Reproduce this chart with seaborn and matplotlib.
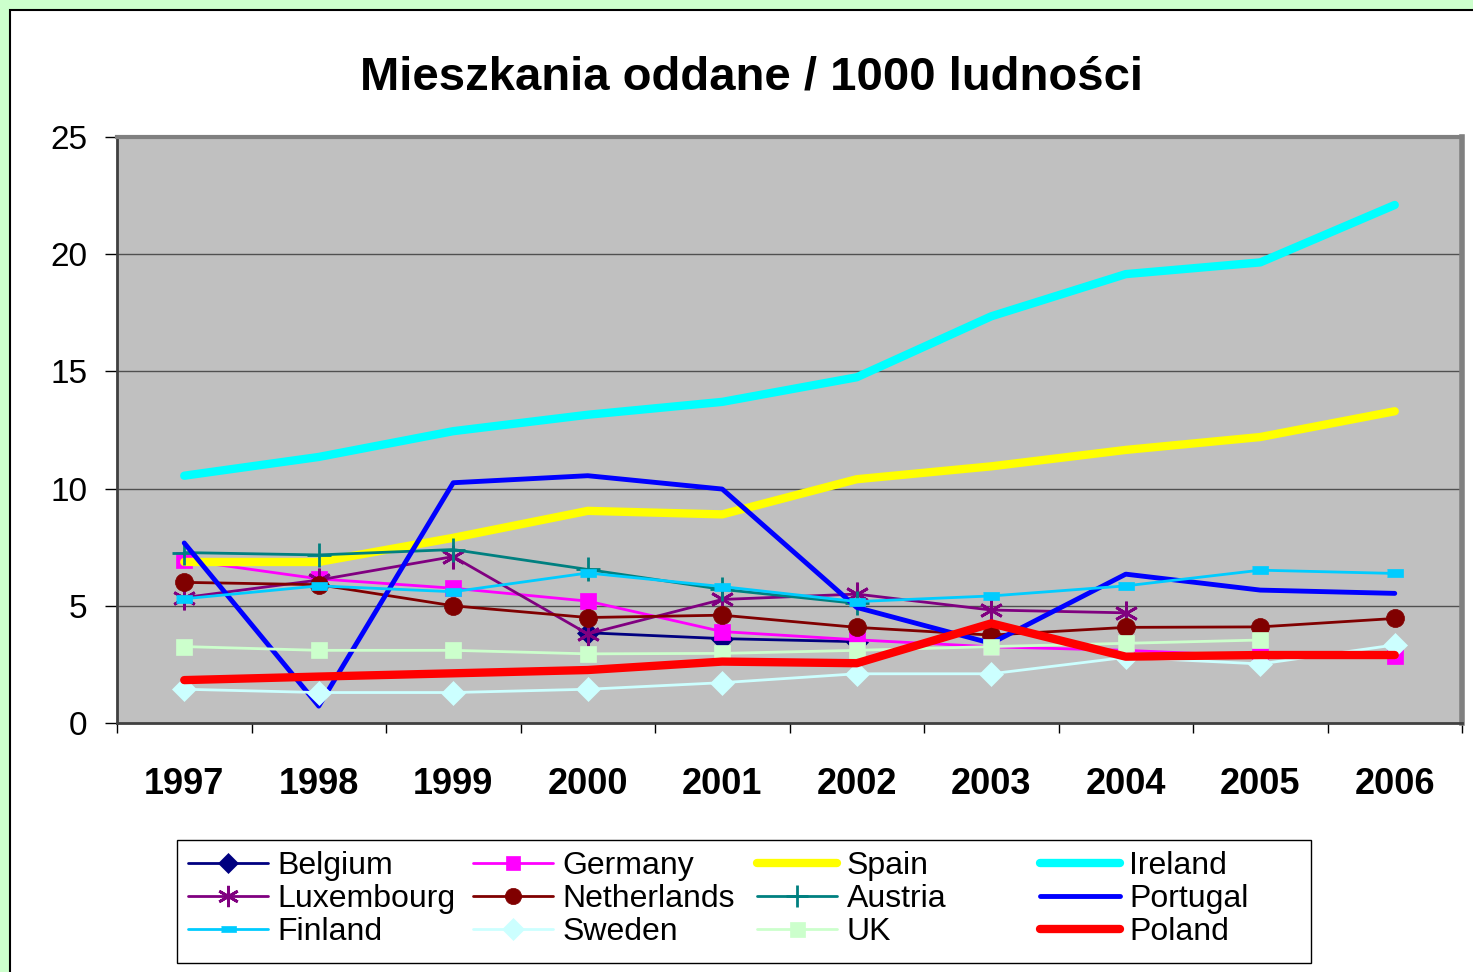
import numpy as np
import pandas as pd
import matplotlib
matplotlib.use('Agg')
import matplotlib.pyplot as plt
import matplotlib.patches as patches
from matplotlib.lines import Line2D
import seaborn as sns

# ---------- data ----------
years = ['1997', '1998', '1999', '2000', '2001', '2002', '2003', '2004', '2005', '2006']

belgium = [np.nan, np.nan, np.nan, 3.85, 3.6, 3.47, np.nan, np.nan, np.nan, np.nan]
germany = [6.95, 6.15, 5.75, 5.2, 3.9, 3.55, 3.25, 3.1, 2.85, 2.85]
spain = [6.87, 6.87, 7.9, 9.05, 8.9, 10.4, 10.95, 11.65, 12.2, 13.3]
ireland = [10.55, 11.35, 12.45, 13.15, 13.7, 14.75, 17.35, 19.15, 19.65, 22.1]
luxembourg = [5.35, 6.1, 7.1, 3.8, 5.27, 5.5, 4.82, 4.7, np.nan, np.nan]
netherlands = [6.0, 5.9, 5.0, 4.5, 4.6, 4.08, 3.75, 4.08, 4.1, 4.46]
austria = [7.27, 7.17, 7.4, 6.55, 5.7, 5.1, np.nan, np.nan, np.nan, np.nan]
portugal = [7.68, 0.72, 10.25, 10.55, 9.98, 4.93, 3.4, 6.35, 5.67, 5.53]
finland = [5.3, 5.85, 5.6, 6.4, 5.82, 5.18, 5.42, 5.85, 6.52, 6.38]
sweden = [1.44, 1.3, 1.3, 1.44, 1.72, 2.1, 2.1, 2.8, 2.52, 3.33]
uk = [3.26, 3.1, 3.1, 2.95, 2.97, 3.1, 3.26, 3.4, 3.54, np.nan]
poland = [1.83, 1.98, 2.12, 2.26, 2.62, 2.55, 4.25, 2.83, 2.9, 2.9]

# name, values, colour, line width, marker, marker size
series = [
    ('Belgium', belgium, '#000080', 2, 'D', 11),
    ('Germany', germany, '#FF00FF', 2, 's', 11),
    ('Spain', spain, '#FFFF00', 6, None, 0),
    ('Ireland', ireland, '#00FFFF', 6, None, 0),
    ('Luxembourg', luxembourg, '#800080', 2, (6, 2, 0), 17),
    ('Netherlands', netherlands, '#800000', 2, 'o', 13),
    ('Austria', austria, '#008080', 2, '+', 17),
    ('Portugal', portugal, '#0000FF', 3.5, None, 0),
    ('Finland', finland, '#00CCFF', 2, [(-1, -0.45), (1, -0.45), (1, 0.45), (-1, 0.45)], 12),
    ('Sweden', sweden, '#CCFFFF', 2, 'D', 12),
    ('UK', uk, '#CCFFCC', 2, 's', 12),
    ('Poland', poland, '#FF0000', 6, None, 0),
]

sns.set_style('white')
plt.rcParams['font.family'] = ['Liberation Sans', 'DejaVu Sans']
plt.rcParams['text.color'] = 'black'
plt.rcParams['xtick.color'] = 'black'
plt.rcParams['ytick.color'] = 'black'

W, H = 1473, 972
fig = plt.figure(figsize=(W / 100, H / 100), dpi=100, facecolor='#CCFFCC')

# white chart area with black border
fig.patches.append(patches.Rectangle((10 / W, -0.01), 1.05, 1 - 10 / H + 0.01,
                                     transform=fig.transFigure, facecolor='white',
                                     edgecolor='black', lw=1.5, zorder=-5))

ax = fig.add_axes([117 / W, 1 - 723 / H, (1462 - 117) / W, (723 - 137) / H])
ax.set_facecolor('#C0C0C0')

x = np.arange(len(years))
handles = []
for name, vals, col, lw, mk, ms in series:
    df = pd.DataFrame({'x': x, 'y': vals}).dropna()
    mew = 2 if mk in ['+', (6, 2, 0)] else 0.5
    sns.lineplot(data=df, x='x', y='y', ax=ax, color=col, lw=lw,
                 marker=mk, markersize=ms,
                 markeredgecolor=col, markerfacecolor=col, markeredgewidth=mew,
                 solid_capstyle='round', legend=False)
    handles.append(Line2D([], [], color=col, lw=lw, marker=mk, markersize=ms * 0.9,
                          markeredgecolor=col, markerfacecolor=col,
                          markeredgewidth=mew, solid_capstyle='round'))

ax.set_xlim(-0.5, 9.5)
ax.set_ylim(0, 25)
ax.set_yticks([0, 5, 10, 15, 20, 25])
ax.set_xticks(x)
ax.set_xticklabels(years, fontsize=26, fontweight='bold')
ax.set_xticks(np.arange(-0.5, 10, 1), minor=True)
ax.tick_params(axis='x', which='major', bottom=True, length=0, pad=32)
ax.tick_params(axis='x', which='minor', bottom=True, length=7, width=1, color='black',
               direction='out')
ax.tick_params(axis='y', left=True, length=8.5, width=1, color='black', direction='out',
               labelsize=24, pad=13)
ax.set_xlabel('')
ax.set_ylabel('')

for yv in [5, 10, 15, 20]:
    ax.axhline(yv, color='#505050', lw=1, zorder=0.5)

ax.spines['top'].set_color('#808080')
ax.spines['top'].set_linewidth(3)
ax.spines['right'].set_color('#808080')
ax.spines['right'].set_linewidth(4)
ax.spines['left'].set_color('#404040')
ax.spines['left'].set_linewidth(2)
ax.spines['bottom'].set_color('#404040')
ax.spines['bottom'].set_linewidth(2)

fig.text(752 / W, 1 - 77 / H, 'Mieszkania oddane / 1000 ludności', ha='center', va='center',
         fontsize=34, fontweight='bold', color='black')

# legend: frame plus four columns
fig.patches.append(patches.Rectangle((177 / W, 1 - 963 / H), (1311 - 177) / W, (963 - 840) / H,
                                     transform=fig.transFigure, facecolor='white',
                                     edgecolor='black', lw=1, zorder=1))
labels = [s[0] for s in series]
col_x = [188, 473, 757, 1040]
for c in range(4):
    idx = [c, c + 4, c + 8]
    leg = fig.legend([handles[i] for i in idx], [labels[i] for i in idx],
                     loc='upper left', bbox_to_anchor=(col_x[c] / W, 1 - 851 / H),
                     frameon=False, fontsize=23, handlelength=2.5, handletextpad=0.3,
                     labelspacing=0.1, borderpad=0.0, borderaxespad=0.0)
    leg.set_zorder(2)

fig.savefig('out.png', dpi=100, facecolor=fig.get_facecolor())
